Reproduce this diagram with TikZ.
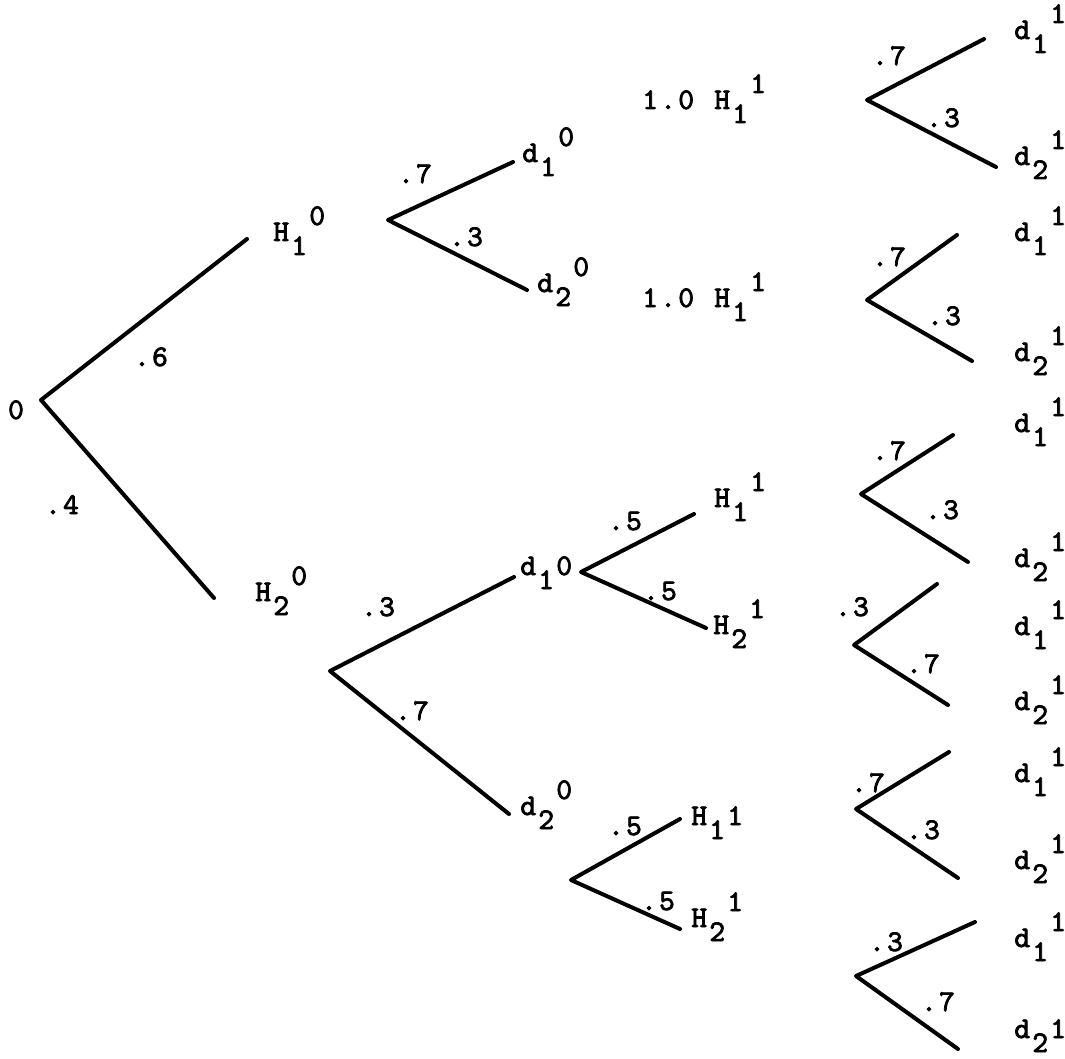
\documentclass[tikz,border=0pt]{standalone}
\usepackage{fontspec}
\newfontfamily\twfont[FakeBold=2.5]{lmmono10-regular.otf}
\newcommand{\tcell}[1]{\makebox[18pt]{#1}}
\newcommand{\tsub}[1]{\tcell{\raisebox{-14pt}{#1}}}
\newcommand{\tsup}[1]{\tcell{\raisebox{16pt}{#1}}}
\begin{document}
\begin{tikzpicture}[x=1pt,y=-1pt,
  font=\twfont\fontsize{30pt}{30pt}\selectfont,
  br/.style={line width=4pt, line cap=round, line join=round},
  lab/.style={anchor=base west, inner sep=0pt},
  pr/.style={anchor=base, inner sep=0pt}]
\fill[white] (0,0) rectangle (1065,1059);
\useasboundingbox (0,0) rectangle (1065,1059);

% ---------- branch points and ends ----------
\coordinate (r) at (41,400);
\coordinate (rU) at (247,239);
\coordinate (rD) at (214,598);
\coordinate (a) at (388,220);
\coordinate (aU) at (513,162);
\coordinate (aD) at (527,290);
\coordinate (b) at (330,671);
\coordinate (bU) at (514,577);
\coordinate (bD) at (509,814);
\coordinate (c) at (581,572);
\coordinate (cU) at (694,514);
\coordinate (cD) at (706,628);
\coordinate (e) at (571,880);
\coordinate (eU) at (680,819);
\coordinate (eD) at (680,929);
\coordinate (t1) at (867,100);
\coordinate (t1U) at (984,39);
\coordinate (t1D) at (996,167);
\coordinate (t2) at (867,300);
\coordinate (t2U) at (957,235);
\coordinate (t2D) at (972,361);
\coordinate (t3) at (861,494);
\coordinate (t3U) at (953,435);
\coordinate (t3D) at (968,562);
\coordinate (t4) at (854,645);
\coordinate (t4U) at (937,584);
\coordinate (t4D) at (948,705);
\coordinate (t5) at (856,809);
\coordinate (t5U) at (949,752);
\coordinate (t5D) at (958,878);
\coordinate (t6) at (856,976);
\coordinate (t6U) at (975,922);
\coordinate (t6D) at (958,1049);

% ---------- connectors ----------
\draw[br] (rU) -- (r) -- (rD);
\draw[br] (aU) -- (a) -- (aD);
\draw[br] (bU) -- (b) -- (bD);
\draw[br] (cU) -- (c) -- (cD);
\draw[br] (eU) -- (e) -- (eD);
\draw[br] (t1U) -- (t1) -- (t1D);
\draw[br] (t2U) -- (t2) -- (t2D);
\draw[br] (t3U) -- (t3) -- (t3D);
\draw[br] (t4U) -- (t4) -- (t4D);
\draw[br] (t5U) -- (t5) -- (t5D);
\draw[br] (t6U) -- (t6) -- (t6D);

% ---------- state labels ----------
\node[pr] (l0) at (16,419) {\tcell{0}};
\node[lab] (lH10) at (272,241) {\tcell{H}\tsub{1}\tsup{0}};
\node[lab] (lH20) at (254,601) {\tcell{H}\tsub{2}\tsup{0}};
\node[lab] (ld10a) at (521,162) {\tcell{d}\tsub{1}\tsup{0}};
\node[lab] (ld20a) at (536,292) {\tcell{d}\tsub{2}\tsup{0}};
\node[lab] (ld10b) at (519,575) {\tcell{d}\tsub{1}\tcell{0}};
\node[lab] (ld20b) at (519,815) {\tcell{d}\tsub{2}\tsup{0}};
\node[lab] (lH11a) at (713,507) {\tcell{H}\tsub{1}\tsup{1}};
\node[lab] (lH21a) at (712,634) {\tcell{H}\tsub{2}\tsup{1}};
\node[lab] (lH11b) at (690,825) {\tcell{H}\tsub{1}\tcell{1}};
\node[lab] (lH21b) at (690,927) {\tcell{H}\tsub{2}\tsup{1}};
\node[lab] (lone1) at (641,109) {\tcell{1}\tcell{.}\tcell{0}\tcell{ }\tcell{H}\tsub{1}\tsup{1}};
\node[lab] (lone2) at (641,307) {\tcell{1}\tcell{.}\tcell{0}\tcell{ }\tcell{H}\tsub{1}\tsup{1}};

\node[lab] (r1a) at (1013,39) {\tcell{d}\tsub{1}\tsup{1}};
\node[lab] (r1b) at (1013,165) {\tcell{d}\tsub{2}\tsup{1}};
\node[lab] (r2a) at (1013,241) {\tcell{d}\tsub{1}\tsup{1}};
\node[lab] (r2b) at (1013,361) {\tcell{d}\tsub{2}\tsup{1}};
\node[lab] (r3a) at (1013,432) {\tcell{d}\tsub{1}\tsup{1}};
\node[lab] (r3b) at (1013,567) {\tcell{d}\tsub{2}\tsup{1}};
\node[lab] (r4a) at (1013,635) {\tcell{d}\tsub{1}\tsup{1}};
\node[lab] (r4b) at (1013,710) {\tcell{d}\tsub{2}\tsup{1}};
\node[lab] (r5a) at (1013,782) {\tcell{d}\tsub{1}\tsup{1}};
\node[lab] (r5b) at (1013,869) {\tcell{d}\tsub{2}\tsup{1}};
\node[lab] (r6a) at (1013,947) {\tcell{d}\tsub{1}\tsup{1}};
\node[lab] (r6b) at (1013,1038) {\tcell{d}\tsub{2}\tcell{1}};

% ---------- probabilities ----------
\node[pr] (p6) at (151,366) {\tcell{.}\tcell{6}};
\node[pr] (p4) at (62,514) {\tcell{.}\tcell{4}};
\node[pr] (pa7) at (415,183) {\tcell{.}\tcell{7}};
\node[pr] (pa3) at (466,246) {\tcell{.}\tcell{3}};
\node[pr] (pb3) at (378,616) {\tcell{.}\tcell{3}};
\node[pr] (pb7) at (412,720) {\tcell{.}\tcell{7}};
\node[pr] (pc5) at (625,530) {\tcell{.}\tcell{5}};
\node[pr] (pc5b) at (660,600) {\tcell{.}\tcell{5}};
\node[pr] (pe5) at (625,835) {\tcell{.}\tcell{5}};
\node[pr] (pe5b) at (658,910) {\tcell{.}\tcell{5}};
\node[pr] (p1u) at (889,65) {\tcell{.}\tcell{7}};
\node[pr] (p1d) at (943,127) {\tcell{.}\tcell{3}};
\node[pr] (p2u) at (889,266) {\tcell{.}\tcell{7}};
\node[pr] (p2d) at (944,325) {\tcell{.}\tcell{3}};
\node[pr] (p3u) at (889,460) {\tcell{.}\tcell{7}};
\node[pr] (p3d) at (942,519) {\tcell{.}\tcell{3}};
\node[pr] (p4u) at (852,616) {\tcell{.}\tcell{3}};
\node[pr] (p4d) at (923,673) {\tcell{.}\tcell{7}};
\node[pr] (p5u) at (868,792) {\tcell{.}\tcell{7}};
\node[pr] (p5d) at (923,839) {\tcell{.}\tcell{3}};
\node[pr] (p6u) at (886,951) {\tcell{.}\tcell{3}};
\node[pr] (p6d) at (938,1011) {\tcell{.}\tcell{7}};
\end{tikzpicture}
\end{document}
